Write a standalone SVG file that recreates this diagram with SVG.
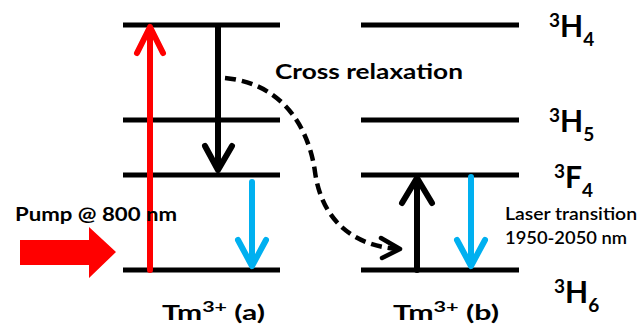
<svg xmlns="http://www.w3.org/2000/svg" width="638" height="333" viewBox="0 0 638 333">
<style>
.lvl{stroke:#000;stroke-width:5;fill:none}
.arr{fill:none;stroke-width:6;stroke-linecap:round;stroke-linejoin:round}
.k{stroke:#000}.r{stroke:#FF0000}.b{stroke:#00B0F0}
.t{font-family:Lato,'Open Sans','Liberation Sans',sans-serif;font-weight:bold;fill:#000}
.n{font-family:Lato,'Open Sans','Liberation Sans',sans-serif;font-weight:600;fill:#000}
.lbl{font-size:30px}
</style>
<rect width="638" height="333" fill="#fff"/>
<g id="levels-a">
<line class="lvl" x1="123" y1="25" x2="280" y2="25"/>
<line class="lvl" x1="123" y1="120" x2="280" y2="120"/>
<line class="lvl" x1="123" y1="175" x2="280" y2="175"/>
<line class="lvl" x1="123" y1="270" x2="280" y2="270"/>
</g>
<g id="levels-b">
<line class="lvl" x1="361" y1="25" x2="519" y2="25"/>
<line class="lvl" x1="361" y1="120" x2="519" y2="120"/>
<line class="lvl" x1="361" y1="175" x2="519" y2="175"/>
<line class="lvl" x1="361" y1="270" x2="519" y2="270"/>
</g>
<g id="connectors">
<g id="pump-a">
<line class="arr r" x1="150" y1="270" x2="150" y2="28" stroke-linecap="butt"/>
<polyline class="arr r" points="137,53 150,27 163,53"/>
</g>
<g id="relax-a">
<line class="arr k" x1="218" y1="27" x2="218" y2="168" stroke-linecap="butt"/>
<polyline class="arr k" points="205,146 218,170 232,146"/>
</g>
<g id="laser-a">
<line class="arr b" x1="252" y1="182" x2="252" y2="265" stroke-linecap="butt"/>
<polyline class="arr b" points="238,240 252,266 266,240"/>
</g>
<g id="excite-b">
<line class="arr k" x1="417" y1="270" x2="417" y2="180" stroke-linecap="butt"/>
<polyline class="arr k" points="402,203 417,178 432,203"/>
</g>
<g id="laser-b">
<line class="arr b" x1="471" y1="177" x2="471" y2="265" stroke-linecap="butt"/>
<polyline class="arr b" points="457,240 471,266 485,240"/>
</g>
<g id="cross">
<path d="M225,78 C288,84 310,135 315,172 C322,222 355,246 398,249" fill="none" stroke="#000" stroke-width="4.5" stroke-dasharray="11,6"/>
<polyline fill="none" stroke="#000" stroke-width="4.5" stroke-linecap="round" stroke-linejoin="round" points="381,238 400,249 382,258"/>
</g>
</g>
<g id="pump-arrow">
<polygon points="20,240 89,240 89,227 116,252 89,278 89,265 20,265" fill="#FF0000"/>
</g>
<g id="labels">
<text class="t" x="275" y="79" font-size="20" textLength="188" lengthAdjust="spacingAndGlyphs">Cross relaxation</text>
<text class="t" x="15" y="221" font-size="19" textLength="162" lengthAdjust="spacingAndGlyphs">Pump @ 800 nm</text>
<text class="t" x="162" y="320" font-size="21" textLength="103" lengthAdjust="spacingAndGlyphs">Tm<tspan font-size="15" dy="-8">3+</tspan><tspan dy="8"> (a)</tspan></text>
<text class="t" x="393" y="320" font-size="21" textLength="106" lengthAdjust="spacingAndGlyphs">Tm<tspan font-size="15" dy="-8">3+</tspan><tspan dy="8"> (b)</tspan></text>
<text class="n" x="505" y="220" font-size="17" textLength="132" lengthAdjust="spacingAndGlyphs">Laser transition</text>
<text class="n" x="505" y="244" font-size="17" textLength="122" lengthAdjust="spacingAndGlyphs">1950-2050 nm</text>
<text class="t lbl" x="549" y="37"><tspan font-size="19" dy="-10">3</tspan><tspan dy="10">H</tspan><tspan font-size="19" dy="9">4</tspan></text>
<text class="t lbl" x="549" y="132"><tspan font-size="19" dy="-10">3</tspan><tspan dy="10">H</tspan><tspan font-size="19" dy="9">5</tspan></text>
<text class="t lbl" x="554" y="188"><tspan font-size="19" dy="-10">3</tspan><tspan dy="10">F</tspan><tspan font-size="19" dy="9">4</tspan></text>
<text class="t lbl" x="554" y="303"><tspan font-size="19" dy="-10">3</tspan><tspan dy="10">H</tspan><tspan font-size="19" dy="9">6</tspan></text>
</g>
</svg>
